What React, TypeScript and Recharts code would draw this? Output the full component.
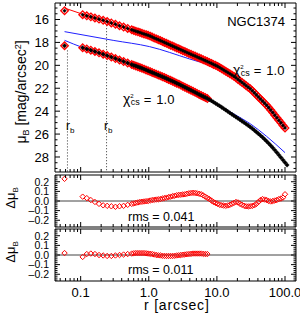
import React from "react"
import { ComposedChart, Scatter, Line, XAxis, YAxis, ReferenceLine } from "recharts"

// radii [arcsec] shared by both profiles
const radii = [
  0.058,
  0.107, 0.123, 0.141, 0.162, 0.186, 0.214, 0.245, 0.282, 0.324, 0.372, 0.427, 0.49, 0.562,
  0.603, 0.646, 0.692, 0.741, 0.794, 0.851, 0.912, 0.977,
  1.047, 1.122, 1.202, 1.288, 1.38, 1.479, 1.585, 1.698, 1.82, 1.95,
  2.089, 2.239, 2.399, 2.57, 2.754, 2.951, 3.162, 3.388, 3.631, 3.89,
  4.169, 4.467, 4.786, 5.129, 5.495, 5.888, 6.31, 6.761, 7.244, 7.762,
  8.318, 8.913, 9.55, 10.23, 10.96, 11.75, 12.59, 13.49, 14.45, 15.49,
  16.6, 17.78, 19.05, 20.42, 21.88, 23.44, 25.12, 26.92, 28.84, 30.9,
  33.11, 35.48, 38.02, 40.74, 43.65, 46.77, 50.12, 53.7, 57.54, 61.66,
  66.07, 70.79, 75.86, 81.28, 87.1, 93.33, 100, 107.2,
]

// offset profile (upper), mag/arcsec^2
const upperMu = [
  15.23,
  15.58, 15.68, 15.77, 15.87, 15.97, 16.07, 16.18, 16.3, 16.42, 16.54, 16.66, 16.78, 16.9,
  16.96, 17.02, 17.08, 17.14, 17.2, 17.26, 17.32, 17.38,
  17.45, 17.53, 17.61, 17.69, 17.76, 17.84, 17.92, 18.0, 18.08, 18.16,
  18.24, 18.32, 18.4, 18.48, 18.56, 18.64, 18.72, 18.8, 18.88, 18.96,
  19.04, 19.12, 19.19, 19.27, 19.35, 19.43, 19.51, 19.59, 19.67, 19.75,
  19.83, 19.92, 20.0, 20.09, 20.19, 20.3, 20.41, 20.52, 20.62, 20.73,
  20.84, 20.95, 21.09, 21.23, 21.36, 21.5, 21.64, 21.78, 21.91, 22.05,
  22.22, 22.4, 22.58, 22.76, 22.94, 23.12, 23.3, 23.48, 23.69, 23.9,
  24.12, 24.35, 24.57, 24.8, 25.02, 25.25, 25.47,
]

// original profile (lower)
const lowerMu = [
  18.29,
  18.46, 18.57, 18.68, 18.79, 18.91, 19.03, 19.15, 19.28, 19.41, 19.54, 19.67, 19.8, 19.93,
  20.0, 20.06, 20.12, 20.19, 20.26, 20.33, 20.4, 20.47,
  20.55, 20.62, 20.7, 20.77, 20.85, 20.92, 21.0, 21.07, 21.15, 21.23,
  21.31, 21.39, 21.47, 21.56, 21.64, 21.73, 21.82, 21.91, 22.0, 22.09,
  22.18, 22.27, 22.36, 22.45, 22.54, 22.63, 22.72, 22.81, 22.9, 23.0,
  23.1, 23.21, 23.32, 23.43, 23.54, 23.66, 23.78, 23.9, 24.02, 24.15,
  24.27, 24.39, 24.51, 24.63, 24.75, 24.88, 25.0, 25.13, 25.25, 25.38,
  25.52, 25.67, 25.82, 25.97, 26.12, 26.28, 26.45, 26.62, 26.81, 27.0,
  27.2, 27.4, 27.61, 27.82, 28.04, 28.26, 28.48, 28.7,
]

// residuals (rms 0.041 and 0.011)
const upperResid = [
  0.23,
  0.045, 0.03, 0.01, -0.01, -0.03, -0.045, -0.05, -0.055, -0.06, -0.055, -0.05, -0.04, -0.03,
  -0.025, -0.02, -0.015, -0.01, -0.008, -0.005, -0.002, 0.0,
  0.005, 0.01, 0.012, 0.015, 0.018, 0.02, 0.025, 0.03, 0.035, 0.04,
  0.045, 0.05, 0.055, 0.06, 0.063, 0.065, 0.068, 0.07, 0.075, 0.08,
  0.083, 0.085, 0.083, 0.08, 0.075, 0.07, 0.058, 0.045, 0.032, 0.02,
  0.005, -0.01, -0.02, -0.03, -0.038, -0.045, -0.048, -0.05, -0.046, -0.04,
  -0.03, -0.02, -0.01, -0.015, -0.03, -0.04, -0.05, -0.055, -0.056, -0.055,
  -0.05, -0.045, -0.03, -0.01, 0.01, 0.02, 0.015, 0.01, 0.0, -0.005,
  0.0, 0.005, 0.01, 0.02, 0.025, 0.035, 0.07,
]
const lowerResid = [
  0.02,
  -0.02, 0.01, 0.015, 0.01, 0.0, -0.005, -0.01, -0.01, -0.005, 0.0, 0.005, 0.01, 0.015,
  0.018, 0.02, 0.02, 0.02, 0.02, 0.02, 0.018, 0.015,
  0.012, 0.01, 0.005, 0.0, -0.003, -0.005, -0.008, -0.01, -0.01, -0.01,
  -0.01, -0.01, -0.008, -0.005, -0.003, 0.0, 0.003, 0.005, 0.008, 0.01,
  0.012, 0.015, 0.015, 0.015, 0.015, 0.015, 0.012, 0.01, 0.01,
]

// model curves
const upperFitR = [0.058, 0.107, 0.245, 0.49, 0.977, 2.24, 4.47, 10.2, 20.4, 40.7, 70.8, 100]
const upperFitMu = [15.0, 15.54, 16.23, 16.82, 17.38, 18.28, 19.04, 20.12, 21.25, 22.77, 24.36, 25.4]
const sersicR = [0.058, 0.3, 1.03, 4.0, 10.2, 17.8, 30.9, 53.7, 100]
const sersicMu = [17.06, 17.82, 18.37, 19.45, 20.22, 20.95, 22.08, 23.5, 25.45]
const lowerFitR = [0.058, 0.107, 0.245, 0.49, 0.977, 2.24, 4.47, 7.76, 10.2, 17.8, 30.9, 53.7, 100]
const lowerFitMu = [17.82, 18.45, 19.16, 19.8, 20.47, 21.4, 22.26, 23.0, 23.42, 24.25, 25.1, 26.2, 27.62]

const rbUpper = 0.24
const rbLower = 0.064

const xTicks = [0.05, 0.06, 0.07, 0.08, 0.09, 0.1, 0.2, 0.3, 0.4, 0.5, 0.6, 0.7, 0.8, 0.9, 1, 2, 3, 4, 5, 6, 7, 8, 9, 10, 20, 30, 40, 50, 60, 70, 80, 90, 100]
const xMajor = [0.1, 1, 10, 100]
const xLabels = ["0.1", "1.0", "10.0", "100.0"]
const muTicks = [15, 15.5, 16, 16.5, 17, 17.5, 18, 18.5, 19, 19.5, 20, 20.5, 21, 21.5, 22, 22.5, 23, 23.5, 24, 24.5, 25, 25.5, 26, 26.5, 27, 27.5, 28, 28.5, 29]
const muMajor = [16, 18, 20, 22, 24, 26, 28]
const dTicks = [-0.26, -0.24, -0.22, -0.2, -0.18, -0.16, -0.14, -0.12, -0.1, -0.08, -0.06, -0.04, -0.02, 0, 0.02, 0.04, 0.06, 0.08, 0.1, 0.12, 0.14, 0.16, 0.18, 0.2, 0.22, 0.24, 0.26]
const dMajor = [0.2, 0.1, 0, -0.1, -0.2]
const dLabels = ["0.2", "0.1", "0.0", "–0.1", "–0.2"]

const pts = (rs: number[], vs: number[]) => vs.map((v, i) => ({ r: rs[i], mu: v }))
const upperPts = pts(radii, upperMu)
const lowerPts = pts(radii, lowerMu)
const lowerFitted = lowerPts.slice(0, lowerResid.length)
const upperResPts = pts(radii, upperResid)
const lowerResPts = pts(radii, lowerResid)

const FONT = "'Liberation Sans', Arial, Helvetica, sans-serif"
const RED = "#ff0000"
const BLUE = "#2020ff"

const diamond = (h: number, fill: string, stroke: string, sw: number) => (p: any) => {
  if (p.cx == null || p.cy == null) return <g />
  const { cx, cy } = p
  return (
    <polygon
      points={`${cx},${cy - h} ${cx + h},${cy} ${cx},${cy + h} ${cx - h},${cy}`}
      fill={fill}
      stroke={stroke}
      strokeWidth={sw}
    />
  )
}

const xTick = (side: "top" | "bottom", labels: boolean) => (props: any) => {
  const { x, y, payload } = props
  const i = xMajor.indexOf(payload.value)
  const len = i >= 0 ? 5 : 3
  const d = side === "bottom" ? -len : len
  return (
    <g>
      <line x1={x} x2={x} y1={y} y2={y + d} stroke="#000" />
      {labels && i >= 0 ? (
        <text x={x} y={y + 16} textAnchor="middle" fontSize={13} fill="#000">
          {xLabels[i]}
        </text>
      ) : null}
    </g>
  )
}

const yTick = (side: "left" | "right", major: number[], labels: string[] | null, fs: number) => (props: any) => {
  const { x, y, payload } = props
  const i = major.indexOf(payload.value)
  const len = i >= 0 ? 5 : 2.5
  const d = side === "left" ? len : -len
  return (
    <g>
      <line x1={x} x2={x + d} y1={y} y2={y} stroke="#000" />
      {labels && i >= 0 ? (
        <text x={x - 6} y={y + fs * 0.36} textAnchor="end" fontSize={fs} fill="#000">
          {labels[i]}
        </text>
      ) : null}
    </g>
  )
}

const axes = (yDomain: number[], yTicks: number[], major: number[], labels: string[] | null, fs: number, reversed: boolean, showX: boolean) => [
  <XAxis key="xb" xAxisId="b" dataKey="r" type="number" scale="log" domain={[0.042, 145]} allowDataOverflow ticks={xTicks} interval={0}
    tickSize={0} tickMargin={0} height={1} axisLine={{ stroke: "#000" }} tickLine={false} tick={xTick("bottom", showX)} />,
  <XAxis key="xt" xAxisId="t" orientation="top" dataKey="r" type="number" scale="log" domain={[0.042, 145]} allowDataOverflow ticks={xTicks} interval={0}
    tickSize={0} tickMargin={0} height={1} axisLine={{ stroke: "#000" }} tickLine={false} tick={xTick("top", false)} />,
  <YAxis key="yl" yAxisId="l" dataKey="mu" type="number" domain={yDomain} allowDataOverflow reversed={reversed} ticks={yTicks} interval={0}
    tickSize={0} tickMargin={0} width={55} axisLine={{ stroke: "#000" }} tickLine={false} tick={yTick("left", major, labels, fs)} />,
  <YAxis key="yr" yAxisId="r" orientation="right" dataKey="mu" type="number" domain={yDomain} allowDataOverflow reversed={reversed} ticks={yTicks} interval={0}
    tickSize={0} tickMargin={0} width={1} axisLine={{ stroke: "#000" }} tickLine={false} tick={yTick("right", major, null, fs)} />,
]

const muLabels = muMajor.map((v) => String(v))

function Chi({ x, y }: { x: number; y: number }) {
  return (
    <text x={x} y={y} fontSize={14}>
      χ
      <tspan fontSize={6} dy={-6}>2</tspan>
      <tspan fontSize={9} dx={-3} dy={7}>cs</tspan>
      <tspan fontSize={13} dx={4} dy={-1}>=</tspan>
      <tspan fontSize={13} dx={5}>1.0</tspan>
    </text>
  )
}

export default function App() {
  return (
    <div style={{ position: "absolute", left: 0, top: 0, width: 300, height: 315, background: "#fff", fontFamily: FONT }}>
      <div style={{ position: "absolute", left: 0, top: 0 }}>
        <ComposedChart width={300} height={175} margin={{ top: 2, right: 3, bottom: 2, left: 0 }}>
          {axes([14.56, 29.31], muTicks, muMajor, muLabels, 13, true, false)}
          <ReferenceLine xAxisId="b" yAxisId="l" segment={[{ x: rbLower, y: 18.7 }, { x: rbLower, y: 29.31 }]} stroke="#333" strokeDasharray="1 2" />
          <ReferenceLine xAxisId="b" yAxisId="l" segment={[{ x: rbUpper, y: 16.5 }, { x: rbUpper, y: 29.31 }]} stroke="#333" strokeDasharray="1 2" />
          <Line xAxisId="b" yAxisId="l" data={pts(upperFitR, upperFitMu)} dataKey="mu" type="monotone" stroke={RED} strokeWidth={1} dot={false} activeDot={false} isAnimationActive={false} />
          <Scatter xAxisId="b" yAxisId="l" data={upperPts} shape={diamond(3.8, "none", RED, 1.3)} isAnimationActive={false} />
          <Scatter xAxisId="b" yAxisId="l" data={upperPts} shape={diamond(1.8, "#000", "#000", 0.4)} isAnimationActive={false} />
          <Scatter xAxisId="b" yAxisId="l" data={lowerFitted} shape={diamond(3.8, "none", RED, 1.3)} isAnimationActive={false} />
          <Scatter xAxisId="b" yAxisId="l" data={lowerPts} shape={diamond(2.2, "#000", "#000", 0.4)} isAnimationActive={false} />
          <Line xAxisId="b" yAxisId="l" data={pts(sersicR, sersicMu)} dataKey="mu" type="monotone" stroke={BLUE} strokeWidth={1} dot={false} activeDot={false} isAnimationActive={false} />
          <Line xAxisId="b" yAxisId="l" data={pts(lowerFitR, lowerFitMu)} dataKey="mu" type="monotone" stroke={BLUE} strokeWidth={1} dot={false} activeDot={false} isAnimationActive={false} />
        </ComposedChart>
      </div>
      <div style={{ position: "absolute", left: 0, top: 172 }}>
        <ComposedChart width={300} height={58} margin={{ top: 2, right: 3, bottom: 2, left: 0 }}>
          {axes([-0.27, 0.27], dTicks, dMajor, dLabels, 10.5, false, false)}
          <ReferenceLine xAxisId="b" yAxisId="l" y={0} stroke="#444" />
          <Scatter xAxisId="b" yAxisId="l" data={upperResPts} shape={diamond(2.7, "none", RED, 1)} isAnimationActive={false} />
        </ComposedChart>
      </div>
      <div style={{ position: "absolute", left: 0, top: 226 }}>
        <ComposedChart width={300} height={89} margin={{ top: 2, right: 3, bottom: 33, left: 0 }}>
          {axes([-0.27, 0.27], dTicks, dMajor, dLabels, 10.5, false, true)}
          <ReferenceLine xAxisId="b" yAxisId="l" y={0} stroke="#444" />
          <Scatter xAxisId="b" yAxisId="l" data={lowerResPts} shape={diamond(2.7, "none", RED, 1)} isAnimationActive={false} />
        </ComposedChart>
      </div>
      <svg width={300} height={315} style={{ position: "absolute", left: 0, top: 0, pointerEvents: "none" }} fontFamily={FONT} fill="#000">
        <text transform="translate(26,92) rotate(-90)" textAnchor="middle" fontSize={14}>
          μ<tspan fontSize={9} dy={3}>B</tspan>
          <tspan dy={-3}> [mag/arcsec</tspan>
          <tspan fontSize={9} dy={-5}>2</tspan>
          <tspan dy={5}>]</tspan>
        </text>
        <text transform="translate(15,198) rotate(-90)" textAnchor="middle" fontSize={13}>
          Δμ<tspan fontSize={8} dy={3}>B</tspan>
        </text>
        <text transform="translate(15,252) rotate(-90)" textAnchor="middle" fontSize={13}>
          Δμ<tspan fontSize={8} dy={3}>B</tspan>
        </text>
        <text x={285} y={26} textAnchor="end" fontSize={13}>NGC1374</text>
        <Chi x={233} y={75} />
        <Chi x={123} y={104} />
        <text x={66} y={130} fontSize={12}>r<tspan fontSize={8} dy={3}>b</tspan></text>
        <text x={104} y={130} fontSize={12}>r<tspan fontSize={8} dy={3}>b</tspan></text>
        <text x={128} y={221} fontSize={12.5}>rms  =  0.041</text>
        <text x={128} y={274} fontSize={12.5}>rms  =  0.011</text>
        <text x={144} y={310} fontSize={14} letterSpacing={0.8}>r [arcsec]</text>
      </svg>
    </div>
  )
}
